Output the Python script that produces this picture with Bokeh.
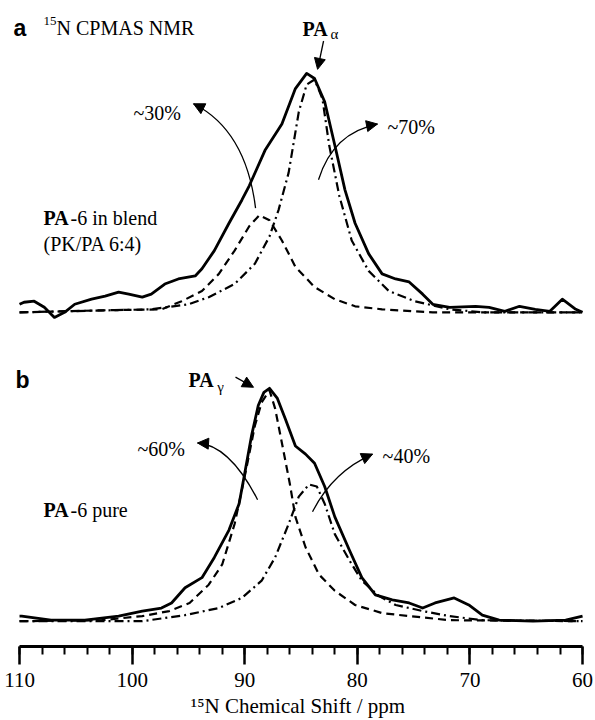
from bokeh.plotting import figure
from bokeh.models import Range1d, SingleIntervalTicker, Label, Arrow, NormalHead
from bokeh.embed import file_html
from bokeh.resources import INLINE

# ---------------- data ----------------
# Panel a: PA-6 in blend (PK/PA 6:4)
a_exp_ppm = [110.0, 109.6, 108.7, 107.8, 106.9, 106.0, 105.1, 103.6, 102.4, 101.2, 100.3, 99.1, 98.3,
             97.1, 95.9, 94.4, 93.8, 92.7, 91.4, 90.25, 89.6, 88.2, 86.7, 85.5, 84.5, 83.8, 82.9,
             82.0, 81.1, 80.2, 79.0, 77.8, 76.6, 75.4, 74.2, 73.3, 71.8, 69.5, 68.3, 66.9, 65.6,
             64.2, 62.9, 61.8, 60.6, 60.0]
a_exp_int = [8, 10, 11, 5, -5, 0, 8, 13, 16, 20, 18, 15, 18,
             28, 33, 36, 43, 61, 88, 111, 125, 160, 186, 221, 236, 231, 208,
             165, 121, 88, 58, 38, 33, 30, 18, 8, 5, 6, 5, 1, 6,
             3, 1, 13, 3, 0]

a_g_ppm = [110.0, 102.7, 97.4, 95.6, 93.8, 92.3, 90.9, 89.6, 88.7, 87.8, 86.7, 85.5, 83.8, 82.0,
           80.2, 77.8, 73.3, 60.0]
a_g_int = [0, 2, 3, 11, 21, 38, 61, 85, 96, 91, 71, 45, 25, 13, 6, 3, 0, 0]

a_a_ppm = [110.0, 98.3, 95.0, 93.2, 90.9, 89.1, 87.8, 87.0, 86.1, 85.2, 84.5, 83.8, 83.1, 82.5,
           81.6, 80.5, 79.0, 77.2, 74.9, 71.8, 68.9, 60.0]
a_a_int = [0, 3, 8, 15, 28, 48, 75, 101, 138, 198, 225, 230, 211, 165,
           115, 71, 41, 21, 11, 3, 0, 0]

# Panel b: PA-6 pure
b_exp_ppm = [110.0, 109.8, 107.2, 104.2, 101.2, 99.1, 97.4, 96.5, 95.3, 93.8, 92.7, 91.4, 90.5,
             90.0, 89.4, 88.8, 88.3, 87.8, 87.1, 86.4, 85.5, 84.6, 83.8, 82.9, 82.0, 80.7, 79.6,
             78.4, 76.9, 75.4, 74.2, 73.1, 71.4, 70.1, 68.9, 67.4, 64.4, 61.5, 60.0]
b_exp_int = [5, 5, 1, 1, 5, 10, 13, 18, 33, 43, 63, 90, 116,
             146, 183, 213, 226, 230, 220, 200, 173, 165, 156, 133, 103, 70, 43,
             26, 21, 18, 13, 18, 23, 16, 6, 1, 0, 1, 5]

b_g_ppm = [110.0, 102.7, 99.1, 96.7, 94.9, 93.2, 92.0, 90.9, 90.0, 89.1, 88.5, 87.8, 87.3, 86.7,
           86.0, 85.5, 84.6, 83.4, 82.0, 80.2, 77.8, 75.4, 71.8, 60.0]
b_g_int = [0, 1, 5, 10, 18, 36, 56, 96, 143, 193, 216, 228, 210, 176,
           136, 103, 73, 46, 30, 16, 8, 5, 1, 0]

b_a_ppm = [110.0, 99.1, 95.3, 92.3, 90.25, 88.5, 87.3, 86.1, 85.2, 84.3, 83.6, 82.9, 82.0, 80.7,
           79.6, 78.1, 76.6, 74.2, 71.8, 68.9, 60.0]
b_a_int = [0, 0, 6, 13, 23, 40, 63, 96, 123, 135, 133, 116, 86, 60,
           40, 25, 16, 10, 5, 1, 0]

x_ticks_major = 10   # ppm
x_ticks_minor = 5
x_bounds = (60, 110)

# ---------------- layout ----------------
A_OFF = 305   # vertical offset of spectrum a
B_OFF = 0     # vertical offset of spectrum b

SERIF = "Liberation Serif"
SANS = "Liberation Sans"

p = figure(width=595, height=720, output_backend="svg", toolbar_location=None,
           x_range=Range1d(111.69, 58.85), y_range=Range1d(-25, 613),
           y_axis_location=None, min_border=0, min_border_left=0, min_border_right=0,
           min_border_top=0, min_border_bottom=0)
p.grid.visible = False
p.outline_line_color = None
p.background_fill_color = "white"
p.border_fill_color = "white"

def add_spec(xs, ys, off, dash, width):
    p.line(xs, [v + off for v in ys], line_color="black", line_width=width,
           line_dash=dash, line_join="round", line_cap="butt")

add_spec(a_g_ppm, a_g_int, A_OFF, "8 5", 2.2)
add_spec(a_a_ppm, a_a_int, A_OFF, "9 4 2 4", 2.2)
add_spec(a_exp_ppm, a_exp_int, A_OFF, "solid", 2.8)
add_spec(b_g_ppm, b_g_int, B_OFF, "8 5", 2.2)
add_spec(b_a_ppm, b_a_int, B_OFF, "9 4 2 4", 2.2)
add_spec(b_exp_ppm, b_exp_int, B_OFF, "solid", 2.8)

# ---------------- axis ----------------
ax = p.xaxis[0]
ax.ticker = SingleIntervalTicker(interval=x_ticks_major, num_minor_ticks=x_ticks_minor)
ax.bounds = x_bounds
ax.axis_line_width = 3
ax.axis_line_color = "black"
ax.major_tick_out = 18
ax.major_tick_in = 0
ax.minor_tick_out = 8
ax.minor_tick_in = 0
ax.major_tick_line_width = 2.5
ax.minor_tick_line_width = 2
ax.major_tick_line_color = "black"
ax.minor_tick_line_color = "black"
ax.major_label_standoff = 8
ax.major_label_text_font = SERIF
ax.major_label_text_font_size = "21px"
ax.major_label_text_color = "black"
ax.axis_label = "\u00b9\u2075N Chemical Shift / ppm"
ax.axis_label_text_font = SERIF
ax.axis_label_text_font_size = "21px"
ax.axis_label_text_font_style = "normal"
ax.axis_label_text_color = "black"
ax.axis_label_standoff = 4

# ---------------- annotations ----------------
def lab(x, y, t, size="20px", font=SERIF, style="normal"):
    p.add_layout(Label(x=x, y=y, text=t, text_font=font, text_font_size=size,
                       text_font_style=style, text_baseline="alphabetic",
                       text_align="left", text_color="black"))

lab(110.53, 586, "a", "23px", SANS, "bold")
lab(107.87, 593, "15", "13px")
lab(106.71, 586, "N CPMAS NMR")
lab(84.87, 585, "PA", "20px", SERIF, "bold")
lab(82.38, 580, "\u03b1", "15px")
lab(99.88, 502, "~30%")
lab(77.32, 488, "~70%")
lab(107.87, 398, "PA", "20px", SERIF, "bold")
lab(105.47, 398, "-6 in blend")
lab(107.87, 373, "(PK/PA 6:4)")

lab(110.36, 238, "b", "23px", SANS, "bold")
lab(94.99, 238, "PA", "20px", SERIF, "bold")
lab(92.45, 231, "\u03b3", "15px")
lab(99.52, 170, "~60%")
lab(77.76, 163, "~40%")
lab(107.87, 110, "PA", "20px", SERIF, "bold")
lab(105.47, 110, "-6 pure")

def curved_arrow(x0, y0, x1, y1, cx, cy):
    p.quadratic(x0=[x0], y0=[y0], x1=[x1], y1=[y1], cx=[cx], cy=[cy],
                line_color="black", line_width=1.3)
    tx, ty = x1 - cx, y1 - cy
    p.add_layout(Arrow(x_start=x1 - 0.15 * tx, y_start=y1 - 0.15 * ty, x_end=x1, y_end=y1,
                       line_width=1.3, line_color="black",
                       end=NormalHead(size=11, fill_color="black", line_color="black", line_width=1)))

curved_arrow(89.04, 408, 94.55, 511, 89.9, 485)
curved_arrow(83.45, 436, 78.21, 491, 82.16, 482.5)
curved_arrow(88.86, 120, 94.19, 176, 91.35, 174)
curved_arrow(83.98, 108, 78.65, 165, 82.2, 147.5)

for xs, ys, xe, ye in [(83.0, 573, 83.53, 545), (90.82, 241, 89.22, 231)]:
    p.add_layout(Arrow(x_start=xs, y_start=ys, x_end=xe, y_end=ye, line_width=1.3,
                       line_color="black",
                       end=NormalHead(size=11, fill_color="black", line_color="black", line_width=1)))

open("out.html", "w").write(file_html(p, INLINE))
